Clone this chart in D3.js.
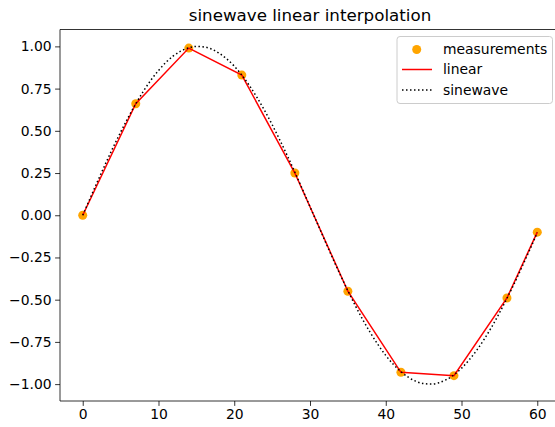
<!DOCTYPE html>
<html>
<head>
<meta charset="utf-8">
<script src="https://cdn.jsdelivr.net/npm/d3@7"></script>
<style>
  html, body { margin: 0; padding: 0; background: #fff; }
  svg { display: block; font-family: "DejaVu Sans", sans-serif; }
</style>
</head>
<body>
<svg id="chart" width="555" height="427"></svg>
<script>
// ---- data ----
const measX = [0, 7, 14, 21, 28, 35, 42, 49, 56, 60];
const measY = [0.00, 0.66, 0.99, 0.83, 0.25, -0.45, -0.93, -0.95, -0.49, -0.10];
const sineX = d3.range(0, 61); // 0..60
const sineY = [
  0.000, 0.103, 0.205, 0.304, 0.401, 0.492, 0.579, 0.660, 0.734, 0.800,
  0.857, 0.906, 0.945, 0.973, 0.992, 1.000, 0.997, 0.984, 0.960, 0.926,
  0.883, 0.830, 0.768, 0.698, 0.621, 0.537, 0.447, 0.353, 0.255, 0.154,
  0.051, -0.051, -0.154, -0.255, -0.353, -0.447, -0.537, -0.621, -0.698, -0.768,
  -0.830, -0.883, -0.926, -0.960, -0.984, -0.997, -1.000, -0.992, -0.973, -0.945,
  -0.906, -0.857, -0.800, -0.734, -0.660, -0.579, -0.492, -0.401, -0.304, -0.205,
  -0.103
];
const xTicks = [0, 10, 20, 30, 40, 50, 60];
const yTicks = [-1.00, -0.75, -0.50, -0.25, 0.00, 0.25, 0.50, 0.75, 1.00];
const titleText = "sinewave linear interpolation";
const legendLabels = ["measurements", "linear", "sinewave"];

// ---- layout ----
const svg = d3.select("#chart");
const mLeft = 60, mRight = 560, mTop = 29.5, mBottom = 401;
const x = d3.scaleLinear().domain([-3, 63]).range([mLeft, mRight]);
const y = d3.scaleLinear().domain([-1.1, 1.1]).range([mBottom, mTop]);
const fmtY = v => d3.format(".2f")(v).replace("-", "\u2212");

// axes
const xAxis = d3.axisBottom(x).tickValues(xTicks).tickSize(4.9).tickPadding(3.5).tickFormat(d3.format("d"));
const yAxis = d3.axisLeft(y).tickValues(yTicks).tickSize(4.9).tickPadding(3.5).tickFormat(fmtY);

const gx = svg.append("g").attr("transform", `translate(0,${mBottom})`).call(xAxis);
const gy = svg.append("g").attr("transform", `translate(${mLeft},0)`).call(yAxis);
[gx, gy].forEach(g => {
  g.select(".domain").remove();
  g.selectAll(".tick line").attr("stroke", "#000").attr("stroke-width", 0.8);
  g.selectAll(".tick text").attr("fill", "#000").style("font-size", "13.9px").style("font-family", "DejaVu Sans");
});

// spines
const spine = (x1, y1, x2, y2) => svg.append("line").attr("x1", x1).attr("y1", y1).attr("x2", x2).attr("y2", y2)
  .attr("stroke", "#000").attr("stroke-width", 0.8);
spine(mLeft, mTop, mLeft, mBottom);
spine(mLeft, mBottom, mRight, mBottom);
spine(mLeft, mTop, mRight, mTop);
spine(mRight, mTop, mRight, mBottom);

// title
svg.append("text").attr("x", (mLeft + mRight) / 2).attr("y", 20.5).attr("text-anchor", "middle")
  .style("font-size", "16.7px").attr("fill", "#000").text(titleText);

// measurements
const meas = measX.map((v, i) => ({x: v, y: measY[i]}));
svg.append("g").selectAll("circle").data(meas).join("circle")
  .attr("cx", d => x(d.x)).attr("cy", d => y(d.y)).attr("r", 4.5).attr("fill", "orange");

// linear
const line = d3.line().x(d => x(d.x)).y(d => y(d.y));
svg.append("path").datum(meas).attr("d", line).attr("fill", "none").attr("stroke", "red").attr("stroke-width", 1.5);

// sinewave
const sine = sineX.map((v, i) => ({x: v, y: sineY[i]}));
svg.append("path").datum(sine).attr("d", d3.line().curve(d3.curveMonotoneX).x(d => x(d.x)).y(d => y(d.y)))
  .attr("fill", "none").attr("stroke", "#000").attr("stroke-width", 1.5).attr("stroke-dasharray", "1.5,2.5");

// legend
const lg = svg.append("g");
lg.append("rect").attr("x", 397).attr("y", 36.5).attr("width", 155.5).attr("height", 67).attr("rx", 3)
  .attr("fill", "#fff").attr("fill-opacity", 0.8).attr("stroke", "#cccccc").attr("stroke-width", 1);
const rows = [49.5, 69.5, 90];
lg.append("circle").attr("cx", 416.7).attr("cy", rows[0]).attr("r", 4.5).attr("fill", "orange");
lg.append("line").attr("x1", 402).attr("x2", 432).attr("y1", rows[1]).attr("y2", rows[1]).attr("stroke", "red").attr("stroke-width", 1.5);
lg.append("line").attr("x1", 402).attr("x2", 432).attr("y1", rows[2]).attr("y2", rows[2]).attr("stroke", "#000").attr("stroke-width", 1.5).attr("stroke-dasharray", "1.5,2.5");
legendLabels.forEach((t, i) => {
  lg.append("text").attr("x", 443).attr("y", rows[i]).attr("dy", "0.35em")
    .style("font-size", "13.9px").attr("fill", "#000").text(t);
});
</script>
</body>
</html>
